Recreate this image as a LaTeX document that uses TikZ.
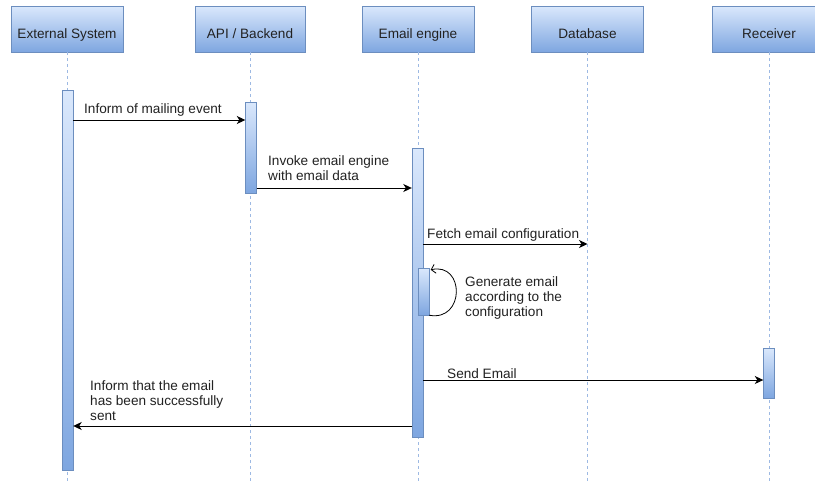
\documentclass[tikz,border=0pt]{standalone}
\usepackage{fontspec}
\setmainfont{Liberation Sans}
\usetikzlibrary{arrows.meta}
\definecolor{boxtop}{HTML}{DAE8FC}
\definecolor{boxbot}{HTML}{7EA6E0}
\definecolor{boxline}{HTML}{6C8EBF}
\definecolor{lifeln}{HTML}{9DB9E3}
\definecolor{txt}{HTML}{222222}
\begin{document}
\begin{tikzpicture}[x=1pt,y=-1pt,
  every node/.style={font=\fontsize{13.6}{15}\selectfont, text=txt},
  head/.style={rectangle, draw=boxline, top color=boxtop, bottom color=boxbot,
    minimum width=112pt, minimum height=46pt, inner sep=0,
    text height=18pt, text depth=0pt},
  bar/.style={rectangle, draw=boxline, top color=boxtop, bottom color=boxbot,
    minimum width=11pt, inner sep=0},
  life/.style={draw=lifeln, dash pattern=on 3pt off 3pt, line width=0.9pt},
  msg/.style={draw=black, line width=0.9pt,
    -{Stealth[length=8.5pt,width=8pt,inset=2.5pt]}},
  selfmsg/.style={draw=black, line width=0.8pt,
    -{Straight Barb[length=4pt,width=9pt]}},
  lbl/.style={anchor=north west, align=left, inner sep=0}]
\useasboundingbox (0,0) rectangle (815,482);
\clip (0,0) rectangle (815,482);
\fill[white] (0,0) rectangle (815,482);

% participants
\node[head] (ext) at (67,29) {External System};
\node[head, minimum width=110pt] (api) at (250,29) {API / Backend};
\node[head] (eng) at (418,29) {Email engine};
\node[head] (db)  at (587.5,29) {Database};
\node[head, minimum width=114pt] (rcv) at (769,29) {Receiver};

% lifelines
\foreach \p in {ext,api,eng,db,rcv}
  \draw[life] (\p.south) -- (\p.south |- 0,482);

% activation bars
\node[bar, minimum height=380pt] (a1) at (67.5,280) {};
\node[bar, minimum height=91pt]  (a2) at (251,147.5) {};
\node[bar, minimum height=289pt] (a3) at (417.5,292.5) {};
\node[bar, minimum height=47pt]  (a4) at (423.5,291.5) {};
\node[bar, minimum height=50pt]  (a5) at (769,373) {};

% message rows
\coordinate (r1) at (0,120);
\coordinate (r2) at (0,188);
\coordinate (r3) at (0,244);
\coordinate (r5) at (0,380);
\coordinate (r6) at (0,426);

\draw[msg] (a1.east |- r1) -- (a2.west |- r1);
\node[lbl] (l1) at (84,103) {Inform of mailing event};

\draw[msg] (a2.east |- r2) -- (a3.west |- r2);
\node[lbl] (l2) at (268,155) {Invoke email engine\\with email data};

\draw[msg] (a3.east |- r3) -- (db.south |- r3);
\node[lbl] (l3) at (427,228) {Fetch email configuration};

\draw[selfmsg] (a4.south east) .. controls (465,322) and (465,262) ..
  ([xshift=1.5pt,yshift=-2pt]a4.north east);
\node[lbl] (l4) at (465,276) {Generate email\\according to the\\configuration};

\draw[msg] (a3.east |- r5) -- (a5.west |- r5);
\node[lbl] (l5) at (447,368) {Send Email};

\draw[msg] (a3.west |- r6) -- (a1.east |- r6);
\node[lbl] (l6) at (90,380) {Inform that the email\\has been successfully\\sent};
\end{tikzpicture}
\end{document}
